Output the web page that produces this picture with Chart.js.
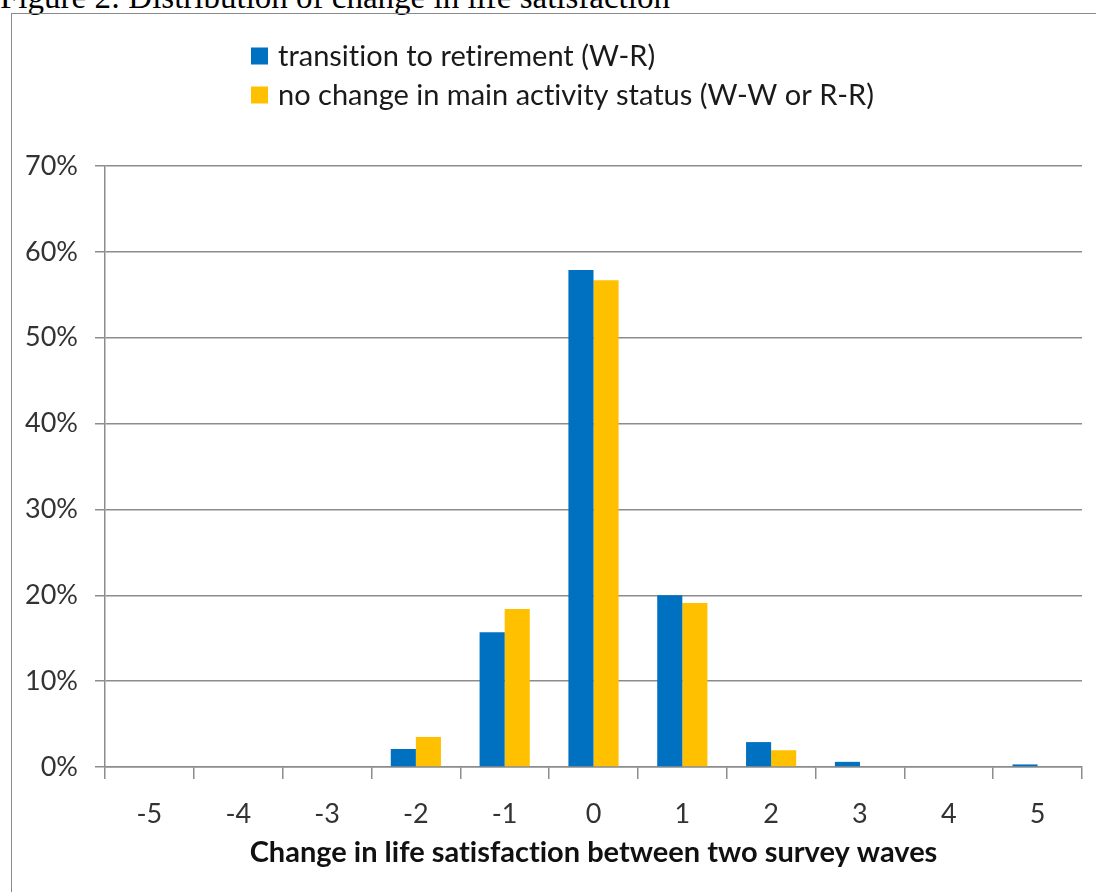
<!DOCTYPE html>
<html>
<head>
<meta charset="utf-8">
<script src="https://cdn.jsdelivr.net/npm/chart.js@4.4.1/dist/chart.umd.min.js"></script>
<style>
  html, body { margin: 0; padding: 0; background: #fff; }
  #wrap { position: relative; width: 1096px; height: 892px; overflow: hidden; }
  #caption {
    position: absolute; left: 0; top: -19px; margin: 0;
    font-family: "Liberation Serif", "Times New Roman", serif;
    font-size: 33px; line-height: 33px; color: #000; white-space: nowrap;
  }
  #frame {
    position: absolute; left: 11px; top: 13px; width: 1200px; height: 1000px;
    border: 1.5px solid #8a8a8a; box-sizing: border-box;
  }
  #chart { position: absolute; left: 0; top: 0; }
</style>
</head>
<body>
<div id="wrap">
  <div id="caption">Figure 2: Distribution of change in life satisfaction</div>
  <div id="frame"></div>
  <canvas id="chart" width="1096" height="892"></canvas>
</div>
<script>
// Change in life satisfaction between waves (categories)
const changes = ['-5', '-4', '-3', '-2', '-1', '0', '1', '2', '3', '4', '5'];
// Share of respondents (%) per change category
const retirementShare = [0, 0, 0, 2.1, 15.7, 57.9, 20.0, 2.9, 0.6, 0, 0.3];
const noChangeShare   = [0, 0, 0, 3.5, 18.4, 56.7, 19.1, 1.95, 0, 0, 0];
const seriesNames = [
  'transition to retirement (W-R)',
  'no change in main activity status (W-W or R-R)'
];
const yTicks = [0, 10, 20, 30, 40, 50, 60, 70];
const xTitle = 'Change in life satisfaction between two survey waves';

const FONT = 'Lato, "Open Sans", sans-serif';
const GRID = '#8c8c8c';

// Lato joins "ti" into a ligature; a zero-width non-joiner keeps the letters apart
const noLigature = s => s.replace(/ti/g, 't\u200Ci').replace(/ff/g, 'f\u200Cf');

// Legend drawn as two stacked rows, top-left of the plot
const stackedLegend = {
  id: 'stackedLegend',
  afterDraw(chart) {
    const ctx = chart.ctx;
    ctx.save();
    ctx.font = '29px ' + FONT;
    ctx.textBaseline = 'middle';
    chart.data.datasets.forEach((ds, i) => {
      const cy = 56 + i * 39;
      ctx.fillStyle = ds.backgroundColor;
      ctx.fillRect(251, cy - 8.5, 17, 17);
      ctx.fillStyle = '#1a1a1a';
      ctx.fillText(noLigature(ds.label), 278, cy + 1);
    });
    ctx.restore();
  }
};

new Chart(document.getElementById('chart'), {
  type: 'bar',
  data: {
    labels: changes,
    datasets: [
      { label: seriesNames[0], data: retirementShare, backgroundColor: '#0070C0' },
      { label: seriesNames[1], data: noChangeShare,   backgroundColor: '#FFC000' }
    ]
  },
  options: {
    responsive: false,
    animation: false,
    devicePixelRatio: 1,
    layout: { padding: { left: 0, right: 14, top: 166, bottom: 0 } },
    datasets: { bar: { categoryPercentage: 0.565, barPercentage: 1.0 } },
    plugins: {
      legend: { display: false },
      tooltip: { enabled: false }
    },
    scales: {
      x: {
        grid: {
          offset: true, drawOnChartArea: false, drawTicks: true,
          tickLength: 12, color: GRID, lineWidth: 1.5
        },
        border: { color: GRID, width: 1.5 },
        ticks: { color: '#333', font: { family: FONT, size: 27 }, padding: 19 },
        title: {
          display: true,
          text: noLigature(xTitle),
          color: '#111',
          font: { family: FONT, size: 29, weight: 'bold' },
          padding: { top: 8, bottom: 22 }
        },
        afterFit(scale) { scale.height = 125; }
      },
      y: {
        min: 0, max: 70,
        afterBuildTicks(scale) { scale.ticks = yTicks.map(v => ({ value: v })); },
        grid: { color: GRID, lineWidth: 1.5, tickLength: 10 },
        border: { color: GRID, width: 1.5 },
        ticks: {
          color: '#333', font: { family: FONT, size: 27 }, padding: 17,
          callback: v => v + '%'
        },
        afterFit(scale) { scale.width = 105; }
      }
    }
  },
  plugins: [stackedLegend]
});
</script>
</body>
</html>
